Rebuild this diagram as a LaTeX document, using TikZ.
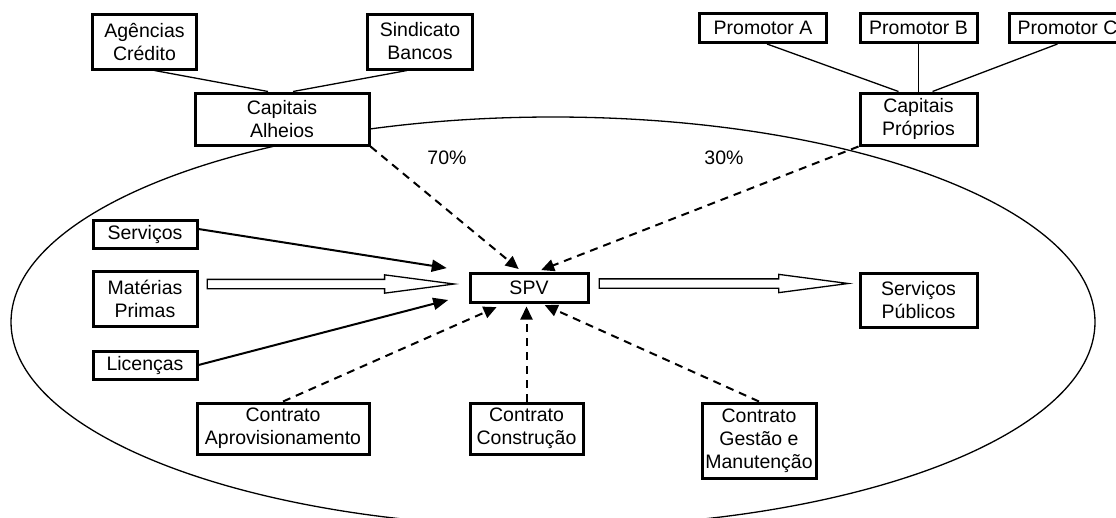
\documentclass[tikz,border=0pt]{standalone}
\usepackage{fontspec}
\setmainfont{Liberation Sans}
\usetikzlibrary{arrows.meta, positioning, shapes.arrows, calc}
\tikzset{
	entity/.style={rectangle, draw=black, fill=white, line width=3pt, align=center, inner sep=0pt, font=\fontsize{19.5}{23}\selectfont},
	linkline/.style={line width=1.3pt, draw=black},
	flowarrow/.style={-{Triangle[length=15pt, width=12pt]}, line width=2pt, draw=black},
	dasharrow/.style={-{Triangle[length=13pt, width=12pt]}, line width=2pt, dash pattern=on 8pt off 6pt, draw=black},
	bigarrow/.style={single arrow, draw=black, fill=white, line width=1.3pt, inner sep=0pt, inner ysep=4pt, minimum width=17pt, single arrow head extend=4.5pt, single arrow tip angle=15, anchor=tail},
	pct/.style={inner sep=0pt, font=\fontsize{19.5}{23}\selectfont},
}

\begin{document}
\begin{tikzpicture}[x=1pt, y=-1pt]
		\useasboundingbox (0,0) rectangle (1116,517);
		\clip (0,0) rectangle (1116,517);
		\draw[line width=1.3pt] (553,322) ellipse [x radius=542, y radius=205];
		% financiadores
		\node[entity, minimum width=104pt, minimum height=55pt] (agencias) at (144.5,41.5) {Agências\\Crédito};
		\node[entity, minimum width=105pt, minimum height=55pt] (sindicato) at (420,41.5) {Sindicato\\Bancos};
		\node[entity, minimum width=174pt, minimum height=52pt] (alheios) at (282,119) {Capitais\\Alheios};
		\node[entity, minimum width=127pt, minimum height=29pt] (proma) at (763,28) {Promotor A};
		\node[entity, minimum width=117pt, minimum height=29pt] (promb) at (918.5,28) {Promotor B};
		\node[entity, minimum width=117pt, minimum height=29pt] (promc) at (1067.5,28) {Promotor C};
		\node[entity, minimum width=117pt, minimum height=52pt] (proprios) at (918.5,119) {Capitais\\Próprios};
		% entradas e SPV
		\node[entity, minimum width=104pt, minimum height=28pt] (serv) at (145,234) {Serviços};
		\node[entity, minimum width=104pt, minimum height=55pt] (mat) at (145,299) {Matérias\\Primas};
		\node[entity, minimum width=104pt, minimum height=28pt] (lic) at (145,365) {Licenças};
		\node[entity, minimum width=118pt, minimum height=29pt] (spv) at (529,287.5) {SPV};
		\node[entity, minimum width=117pt, minimum height=54pt] (publicos) at (918.5,300) {Serviços\\Públicos};
		% contratos
		\node[entity, minimum width=172pt, minimum height=51pt] (aprov) at (283,428.5) {Contrato\\Aprovisionamento};
		\node[entity, minimum width=113pt, minimum height=51pt] (constr) at (526.5,428.5) {Contrato\\Construção};
		\node[entity, minimum width=114pt, minimum height=75pt] (gestao) at (759,440.5) {Contrato\\Gestão e\\Manutenção};
		\node[pct] (p70) at (447,158) {70\%};
		\node[pct] (p30) at (724,158) {30\%};
		\draw[linkline] ([xshift=10pt]agencias.south) -- ([xshift=-14pt]alheios.north);
		\draw[linkline] ([xshift=-13pt]sindicato.south) -- ([xshift=11pt]alheios.north);
		\draw[linkline] ([xshift=4pt]proma.south) -- ([xshift=-20pt]proprios.north);
		\draw[linkline] (promb.south) -- (proprios.north);
		\draw[linkline] ([xshift=-10pt]promc.south) -- ([xshift=14pt]proprios.north);
		\draw[dasharrow, shorten >=4pt] (alheios.south east) -- ($(spv.north west)!0.44!(spv.north east)$);
		\draw[dasharrow, shorten >=4pt] (proprios.south west) -- ($(spv.north west)!0.57!(spv.north east)$);
		\draw[dasharrow, shorten >=9pt] (aprov.north) -- ($(spv.south west)!0.3!(spv.south east)$);
		\draw[dasharrow, shorten >=3pt] (constr.north) -- (constr.north |- spv.south);
		\draw[dasharrow, shorten >=4pt] (gestao.north) -- ($(spv.south west)!0.6!(spv.south east)$);
		\draw[flowarrow, shorten >=22pt] ([yshift=5pt]serv.east) -- (spv.north west);
		\draw[flowarrow, shorten >=21pt] (lic.east) -- ($(spv.west)!0.45!(spv.south west)$);
		\node[bigarrow, minimum height=247pt] (matarrow) at ([shift={(8pt,15pt)}]mat.east) {};
		\node[bigarrow, minimum height=249pt] (spvarrow) at ([shift={(9pt,4pt)}]spv.east) {};
	\end{tikzpicture}
\end{document}
